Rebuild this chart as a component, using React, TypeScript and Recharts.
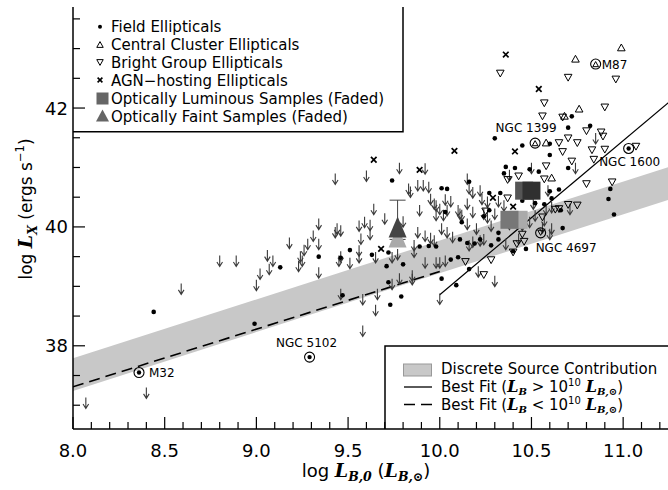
import React from "react";
import { ComposedChart, Scatter, Line, Area, XAxis, YAxis, ErrorBar } from "recharts";

const SANS = "'DejaVu Sans', sans-serif";
const SERIF = "'DejaVu Serif', 'Liberation Serif', serif";

// axis ticks
const xTicks = [8.0, 8.1, 8.2, 8.3, 8.4, 8.5, 8.6, 8.7, 8.8, 8.9, 9.0, 9.1, 9.2, 9.3, 9.4, 9.5, 9.6, 9.7, 9.8, 9.9,
  10.0, 10.1, 10.2, 10.3, 10.4, 10.5, 10.6, 10.7, 10.8, 10.9, 11.0, 11.1, 11.2];
const xLabelTicks = [8.0, 8.5, 9.0, 9.5, 10.0, 10.5, 11.0];
const yTicks = [37, 37.5, 38, 38.5, 39, 39.5, 40, 40.5, 41, 41.5, 42, 42.5, 43, 43.5];
const yLabelTicks = [38, 40, 42];

// field ellipticals (filled dots)
const fieldX = [8.44, 8.99, 9.13, 9.34, 9.47, 9.51, 9.46, 9.63, 9.72, 9.71, 9.80, 9.72, 9.79, 9.73, 10.01, 10.16, 10.09,
  9.89, 9.98, 10.06, 10.10, 10.11, 10.15, 10.22, 10.28, 10.32, 10.32, 10.40, 10.47, 10.03, 10.12, 10.19, 10.30, 10.45,
  9.74, 10.01, 10.04, 10.16, 10.27, 10.36, 10.35, 10.41, 10.49, 10.54, 10.60, 10.60, 10.70, 10.72, 10.82, 10.70, 10.52,
  10.60, 10.65, 10.33, 10.45, 10.57, 10.67, 10.24, 10.27, 10.61, 10.66, 10.93, 10.92, 10.95, 9.94];
const fieldY = [38.57, 38.37, 39.32, 39.50, 38.85, 39.61, 39.48, 39.53, 39.57, 39.34, 39.37, 39.07, 38.83, 38.69, 39.13, 39.29, 39.02,
  39.67, 39.67, 39.45, 39.49, 39.79, 39.73, 39.79, 39.69, 39.79, 39.90, 39.59, 39.63, 40.25, 40.08, 39.72, 41.49, 41.37,
  40.78, 40.65, 40.64, 40.76, 40.57, 41.01, 40.90, 40.99, 40.97, 40.93, 41.21, 41.40, 41.67, 41.86, 41.70, 40.99, 40.40,
  40.60, 40.63, 40.57, 40.44, 40.38, 39.98, 40.18, 40.28, 40.48, 40.28, 40.64, 40.47, 40.21, 39.68];

// central cluster ellipticals (open up-triangles)
const clusterX = [10.99, 10.74, 10.76, 10.68, 10.58, 10.61];
const clusterY = [43.01, 42.82, 41.98, 41.86, 41.41, 40.82];

// bright group ellipticals (open down-triangles)
const groupX = [10.33, 10.70, 10.96, 10.57, 10.90, 10.56, 10.67, 10.80, 10.88, 10.89, 10.65, 10.70, 10.75, 10.67, 10.83,
  10.90, 11.07, 10.84, 10.72, 10.58, 10.43, 10.57, 10.80, 10.94, 10.65, 10.70, 10.75, 10.37, 10.25, 10.56, 10.45, 10.42,
  10.63, 10.14, 10.28, 10.24, 10.40, 10.46, 10.37];
const groupY = [42.59, 42.52, 42.49, 42.09, 42.02, 41.87, 41.85, 41.62, 41.60, 41.53, 41.42, 41.50, 41.42, 41.27, 41.30,
  41.31, 41.36, 41.14, 41.11, 41.03, 40.86, 40.81, 40.73, 40.76, 40.31, 40.38, 40.37, 40.49, 40.27, 40.17, 39.88, 39.72,
  40.30, 39.42, 39.45, 39.20, 39.58, 39.76, 40.80];

// AGN-hosting ellipticals (crosses)
const agnX = [10.36, 10.54, 10.08, 9.64, 9.89, 10.41, 10.29, 10.40, 9.68];
const agnY = [42.90, 42.32, 41.28, 41.13, 40.96, 41.27, 40.49, 40.34, 39.63];

// upper limits (arrows)
const limitX = [8.07, 8.40, 8.59, 8.80, 8.89, 9.00, 9.02, 9.06, 9.07, 9.09, 9.23, 9.25, 9.34, 9.45, 9.43, 9.34, 9.43, 9.31,
  9.28, 9.34, 9.18, 9.26, 9.24, 9.60, 9.78, 9.83, 9.88, 9.91, 9.94, 9.64, 9.70, 9.59, 9.92, 9.44, 9.56, 9.62, 9.88, 9.95,
  9.97, 9.98, 10.00, 10.02, 10.04, 10.10, 10.12, 10.15, 10.16, 10.18, 10.22, 10.23, 10.26, 10.32, 10.38, 10.50, 10.74,
  10.85, 10.35, 10.51, 10.59, 10.58, 10.49, 10.56, 10.61, 10.38, 10.45, 10.60, 9.84, 9.89, 10.03, 10.06, 10.11, 10.15,
  10.18, 10.24, 10.26, 10.30, 9.98, 9.46, 9.46, 9.51, 9.57, 9.62, 9.56, 9.56, 9.65, 9.74, 9.77, 9.80, 9.86, 9.46, 9.58,
  9.66, 9.65, 9.74, 9.78, 9.58, 9.85, 10.00, 10.30, 9.92, 9.95, 9.97, 10.01, 10.04, 10.07, 9.86, 9.92, 9.98, 10.00, 10.03,
  9.85, 10.16, 10.18, 10.22, 10.24, 10.20, 10.15, 10.28, 10.36, 10.21, 10.43, 10.52, 10.57, 10.71, 10.61];
const limitY = [37.13, 37.30, 39.05, 39.52, 39.52, 39.11, 39.30, 39.61, 39.38, 39.52, 39.43, 39.52, 39.32, 39.52, 40.90, 40.14,
  40.00, 39.94, 39.80, 39.80, 39.82, 39.70, 39.59, 40.95, 41.08, 40.73, 40.79, 40.79, 40.76, 40.39, 40.23, 40.17, 41.07,
  40.06, 40.11, 40.12, 40.00, 40.56, 40.48, 40.45, 40.39, 40.29, 40.37, 40.37, 40.29, 40.90, 40.74, 40.67, 40.70, 40.56,
  40.51, 40.52, 40.96, 41.08, 41.08, 41.58, 40.45, 40.48, 40.70, 40.39, 40.17, 40.08, 40.42, 40.14, 40.12, 39.97, 40.68,
  40.37, 40.55, 40.52, 40.31, 40.48, 40.34, 40.31, 40.25, 40.31, 40.29, 40.03, 39.59, 39.48, 39.89, 39.97, 39.69, 39.58,
  39.58, 39.58, 39.63, 40.18, 39.67, 38.96, 38.87, 38.96, 38.69, 39.13, 39.22, 38.34, 39.21, 38.88, 39.18, 39.94, 39.90,
  39.86, 40.06, 40.00, 39.92, 39.78, 39.49, 39.49, 39.49, 39.52, 39.27, 39.78, 39.84, 39.86, 39.88, 40.06, 40.14, 40.11,
  39.80, 39.34, 39.89, 40.28, 40.20, 40.39, 40.06];

// faded stacked samples
const lumX = [10.46, 10.50, 10.43, 10.38];
const lumY = [40.61, 40.61, 40.12, 40.12];
const faintX = [9.77, 9.77];
const faintY = [39.83, 40.0];
const faintErr = [[0, 0], [0.21, 0.45]];

// labelled galaxies
const namedGalaxies = ["M32", "NGC 5102", "M87", "NGC 1399", "NGC 1600", "NGC 4697"];
const namedX = [8.36, 9.29, 10.85, 10.52, 11.03, 10.55];
const namedY = [37.55, 37.81, 42.74, 41.41, 41.32, 39.90];
const namedKind = ["field", "field", "cluster", "cluster", "field", "group"];

// discrete source band and fits
const bandX = [8.0, 11.25];
const bandLow = [37.24, 40.46];
const bandHigh = [37.79, 41.01];
const fitHighX = [10.0, 11.25];
const fitHighY = [38.86, 42.1];
const fitLowX = [8.0, 10.0];
const fitLowY = [37.31, 39.25];

const zip = (xs: number[], ys: number[]) => xs.map((x, i) => ({ x, y: ys[i] }));
const fieldData = zip(fieldX, fieldY);
const clusterData = zip(clusterX, clusterY);
const groupData = zip(groupX, groupY);
const agnData = zip(agnX, agnY);
const limitData = zip(limitX, limitY);
const bandData = bandX.map((x, i) => ({ x, band: [bandLow[i], bandHigh[i]] }));
const fitHighData = zip(fitHighX, fitHighY);
const fitLowData = zip(fitLowX, fitLowY);
const namedData = namedGalaxies.map((name, i) => ({ name, kind: namedKind[i], x: namedX[i], y: namedY[i] }));

// styles kept apart from the data
const lumFill = ["#555", "#303030", "#aaa", "#777"];
const faintFill = ["#aaa", "#444"];
const namedLabel: Record<string, { dx: number; dy: number; anchor: string }> = {
  "M32": { dx: 10, dy: 4.5, anchor: "start" },
  "NGC 5102": { dx: -3, dy: -10.5, anchor: "middle" },
  "M87": { dx: 6, dy: 4.5, anchor: "start" },
  "NGC 1399": { dx: -9, dy: -11.5, anchor: "middle" },
  "NGC 1600": { dx: 1, dy: 17.5, anchor: "middle" },
  "NGC 4697": { dx: -5, dy: 19, anchor: "start" },
};

const isIn = (arr: number[], v: number) => arr.some((t) => Math.abs(t - v) < 1e-6);

const BottomTick = (p: any) => {
  const major = isIn(xLabelTicks, p.payload.value);
  return (
    <g>
      <line x1={p.x} x2={p.x} y1={p.y} y2={p.y - (major ? 12 : 7)} stroke="#000" strokeWidth={1.2} />
      {major && (
        <text x={p.x} y={p.y + 28} textAnchor="middle" fontSize={18} fontFamily={SANS} fill="#000">
          {p.payload.value.toFixed(1)}
        </text>
      )}
    </g>
  );
};
const TopTick = (p: any) => {
  const major = isIn(xLabelTicks, p.payload.value);
  return <line x1={p.x} x2={p.x} y1={p.y} y2={p.y + (major ? 12 : 7)} stroke="#000" strokeWidth={1.2} />;
};
const LeftTick = (p: any) => {
  const major = isIn(yLabelTicks, p.payload.value);
  return (
    <g>
      <line x1={p.x} x2={p.x + (major ? 12 : 7)} y1={p.y} y2={p.y} stroke="#000" strokeWidth={1.2} />
      {major && (
        <text x={p.x - 5} y={p.y + 6.5} textAnchor="end" fontSize={18} fontFamily={SANS} fill="#000">
          {p.payload.value}
        </text>
      )}
    </g>
  );
};
const RightTick = (p: any) => {
  const major = isIn(yLabelTicks, p.payload.value);
  return <line x1={p.x} x2={p.x - (major ? 12 : 7)} y1={p.y} y2={p.y} stroke="#000" strokeWidth={1.2} />;
};

const triUp = (cx: number, cy: number, s = 1) =>
  `M${cx},${cy - 4 * s} L${cx + 3.8 * s},${cy + 2.8 * s} L${cx - 3.8 * s},${cy + 2.8 * s} Z`;
const triDown = (cx: number, cy: number, s = 1) =>
  `M${cx},${cy + 4 * s} L${cx + 3.8 * s},${cy - 2.8 * s} L${cx - 3.8 * s},${cy - 2.8 * s} Z`;

const DotShape = (p: any) => <circle cx={p.cx} cy={p.cy} r={2.3} fill="#000" />;
const UpShape = (p: any) => <path d={triUp(p.cx, p.cy)} fill="none" stroke="#000" strokeWidth={1} />;
const DownShape = (p: any) => <path d={triDown(p.cx, p.cy)} fill="none" stroke="#000" strokeWidth={1} />;
const CrossShape = (p: any) => (
  <path d={`M${p.cx - 2.8},${p.cy - 2.8} L${p.cx + 2.8},${p.cy + 2.8} M${p.cx - 2.8},${p.cy + 2.8} L${p.cx + 2.8},${p.cy - 2.8}`}
    stroke="#000" strokeWidth={1.7} />
);
const ArrowShape = (p: any) => (
  <path d={`M${p.cx},${p.cy} V${p.cy + 11} M${p.cx - 2.8},${p.cy + 6.5} L${p.cx},${p.cy + 11} L${p.cx + 2.8},${p.cy + 6.5}`}
    fill="none" stroke="#3a3a3a" strokeWidth={1.1} />
);
const makeSquare = (fill: string) => (p: any) => <rect x={p.cx - 9} y={p.cy - 9} width={18} height={18} fill={fill} />;
const makeBigTri = (fill: string) => (p: any) => (
  <path d={`M${p.cx},${p.cy - 10.5} L${p.cx + 9},${p.cy + 10.5} L${p.cx - 9},${p.cy + 10.5} Z`} fill={fill} />
);
const NamedShape = (p: any) => {
  const { cx, cy, payload } = p;
  const lab = namedLabel[payload.name];
  let inner;
  if (payload.kind === "cluster") inner = <path d={triUp(cx, cy + 0.5, 0.75)} fill="none" stroke="#000" strokeWidth={1} />;
  else if (payload.kind === "group") inner = <path d={triDown(cx, cy - 0.5, 0.75)} fill="none" stroke="#000" strokeWidth={1} />;
  else inner = <circle cx={cx} cy={cy} r={2.2} fill="#000" />;
  return (
    <g>
      <circle cx={cx} cy={cy} r={5} fill="none" stroke="#000" strokeWidth={1.1} />
      {inner}
      <text x={cx + lab.dx} y={cy + lab.dy} textAnchor={lab.anchor as any} fontSize={12} fontFamily={SANS} fill="#000">
        {payload.name}
      </text>
    </g>
  );
};

const mathL = { fontFamily: SERIF, fontStyle: "italic", fontWeight: "bold" } as const;

const Overlay = () => (
  <svg width={668} height={490} style={{ position: "absolute", left: 0, top: 0, pointerEvents: "none" }}>
    {/* top-left legend */}
    <path d="M403,7 V131.7 H73" fill="none" stroke="#000" strokeWidth={1.5} />
    <circle cx={100} cy={26.7} r={2} fill="#000" />
    <path d={triUp(100, 45, 0.85)} fill="none" stroke="#000" strokeWidth={1} />
    <path d={triDown(100, 62, 0.85)} fill="none" stroke="#000" strokeWidth={1} />
    <path d="M97.6,77.6 L102.4,82.4 M97.6,82.4 L102.4,77.6" stroke="#000" strokeWidth={1.6} />
    <rect x={96.5} y={92.5} width={12} height={12} fill="#666" />
    <path d="M102.5,109.5 L109,121.5 L96,121.5 Z" fill="#666" />
    <g fontSize={15} fontFamily={SANS} fill="#000">
      <text x={111} y={32}>Field Ellipticals</text>
      <text x={111} y={50}>Central Cluster Ellipticals</text>
      <text x={111} y={68}>Bright Group Ellipticals</text>
      <text x={111} y={86}>AGN−hosting Ellipticals</text>
      <text x={111} y={104}>Optically Luminous Samples (Faded)</text>
      <text x={111} y={122}>Optically Faint Samples (Faded)</text>
    </g>

    {/* bottom-right legend */}
    <path d="M385,429 V346 H668" fill="none" stroke="#000" strokeWidth={1.5} />
    <rect x={403.5} y={364} width={28} height={12} fill="#c8c8c8" stroke="#999" strokeWidth={1} />
    <line x1={404} x2={432} y1={387} y2={387} stroke="#000" strokeWidth={1.3} />
    <line x1={404} x2={432} y1={404.5} y2={404.5} stroke="#000" strokeWidth={1.5} strokeDasharray="11 6" />
    <g fontSize={15} fontFamily={SANS} fill="#000">
      <text x={441} y={373.5}>Discrete Source Contribution</text>
      <text x={441} y={392}>
        Best Fit (<tspan {...mathL} fontSize={16}>L</tspan>
        <tspan {...mathL} fontSize={10} dy={3}>B</tspan>
        <tspan dy={-3}>{"\u00a0>\u00a010"}</tspan>
        <tspan fontSize={10} dy={-6}>10</tspan>
        <tspan dy={6}>{"\u00a0"}</tspan>
        <tspan {...mathL} fontSize={16}>L</tspan>
        <tspan {...mathL} fontSize={10} dy={3}>B,⊙</tspan>
        <tspan dy={-3}>)</tspan>
      </text>
      <text x={441} y={409.5}>
        Best Fit (<tspan {...mathL} fontSize={16}>L</tspan>
        <tspan {...mathL} fontSize={10} dy={3}>B</tspan>
        <tspan dy={-3}>{"\u00a0<\u00a010"}</tspan>
        <tspan fontSize={10} dy={-6}>10</tspan>
        <tspan dy={6}>{"\u00a0"}</tspan>
        <tspan {...mathL} fontSize={16}>L</tspan>
        <tspan {...mathL} fontSize={10} dy={3}>B,⊙</tspan>
        <tspan dy={-3}>)</tspan>
      </text>
    </g>

    {/* axis titles */}
    <text x={366} y={477} textAnchor="middle" fontSize={18} fontFamily={SANS} fill="#000">
      {"log\u00a0"}<tspan {...mathL} fontSize={19}>L</tspan>
      <tspan {...mathL} fontSize={12.5} dy={4}>B,0</tspan>
      <tspan dy={-4}>{"\u00a0("}</tspan>
      <tspan {...mathL} fontSize={19}>L</tspan>
      <tspan {...mathL} fontSize={12.5} dy={4}>B,⊙</tspan>
      <tspan dy={-4}>)</tspan>
    </text>
    <text transform="translate(32,209) rotate(-90)" textAnchor="middle" fontSize={17} fontFamily={SANS} fill="#000">
      {"log\u00a0"}<tspan {...mathL} fontSize={19}>L</tspan>
      <tspan {...mathL} fontSize={12.5} dy={5}>X</tspan>
      <tspan dy={-5}>{"\u00a0(ergs s"}</tspan>
      <tspan fontSize={11.5} dy={-8}>−1</tspan>
      <tspan dy={8}>)</tspan>
    </text>
  </svg>
);

export default function App() {
  return (
    <div style={{ position: "absolute", left: 0, top: 0, width: 668, height: 490, overflow: "hidden", background: "#fff" }}>
      <ComposedChart width={680} height={490} margin={{ top: 7, right: 11, bottom: 0, left: 0 }}>
        <XAxis type="number" dataKey="x" domain={[8, 11.25]} allowDataOverflow ticks={xTicks} interval={0}
          height={61} tickSize={0} tickMargin={0} tickLine={false} tick={BottomTick}
          axisLine={{ stroke: "#000", strokeWidth: 1.5 }} />
        <XAxis xAxisId="top" orientation="top" type="number" dataKey="x" domain={[8, 11.25]} allowDataOverflow
          ticks={xTicks} interval={0} height={0} tickSize={0} tickMargin={0} tickLine={false} tick={TopTick}
          axisLine={{ stroke: "#000", strokeWidth: 1.5 }} />
        <YAxis type="number" dataKey="y" domain={[36.6, 43.7]} allowDataOverflow ticks={yTicks} interval={0}
          width={73} tickSize={0} tickMargin={0} tickLine={false} tick={LeftTick}
          axisLine={{ stroke: "#000", strokeWidth: 1.5 }} />
        <YAxis yAxisId="right" orientation="right" type="number" dataKey="y" domain={[36.6, 43.7]} allowDataOverflow
          ticks={yTicks} interval={0} width={0} tickSize={0} tickMargin={0} tickLine={false} tick={RightTick}
          axisLine={{ stroke: "#000", strokeWidth: 1.5 }} />

        <Area data={bandData} dataKey="band" type="linear" stroke="none" fill="#c8c8c8" fillOpacity={1}
          isAnimationActive={false} />
        <Line data={fitLowData} dataKey="y" type="linear" stroke="#000" strokeWidth={1.6} strokeDasharray="11 6"
          dot={false} activeDot={false} isAnimationActive={false} />
        <Line data={fitHighData} dataKey="y" type="linear" stroke="#000" strokeWidth={1.2}
          dot={false} activeDot={false} isAnimationActive={false} />

        <Scatter data={limitData} dataKey="y" shape={ArrowShape} isAnimationActive={false} />
        <Scatter data={fieldData} dataKey="y" shape={DotShape} isAnimationActive={false} />
        <Scatter data={clusterData} dataKey="y" shape={UpShape} isAnimationActive={false} />
        <Scatter data={groupData} dataKey="y" shape={DownShape} isAnimationActive={false} />
        <Scatter data={agnData} dataKey="y" shape={CrossShape} isAnimationActive={false} />
        {lumX.map((x, i) => (
          <Scatter key={"lum" + i} data={[{ x, y: lumY[i] }]} dataKey="y" shape={makeSquare(lumFill[i])}
            isAnimationActive={false} />
        ))}
        {faintX.map((x, i) => (
          <Scatter key={"faint" + i} data={[{ x, y: faintY[i], err: faintErr[i] }]} dataKey="y"
            shape={makeBigTri(faintFill[i])} isAnimationActive={false}>
            {i === 1 && <ErrorBar dataKey="err" direction="y" width={8} stroke="#444" strokeWidth={1} />}
          </Scatter>
        ))}
        <Scatter data={namedData} dataKey="y" shape={NamedShape} isAnimationActive={false} />
      </ComposedChart>
      <Overlay />
    </div>
  );
}
